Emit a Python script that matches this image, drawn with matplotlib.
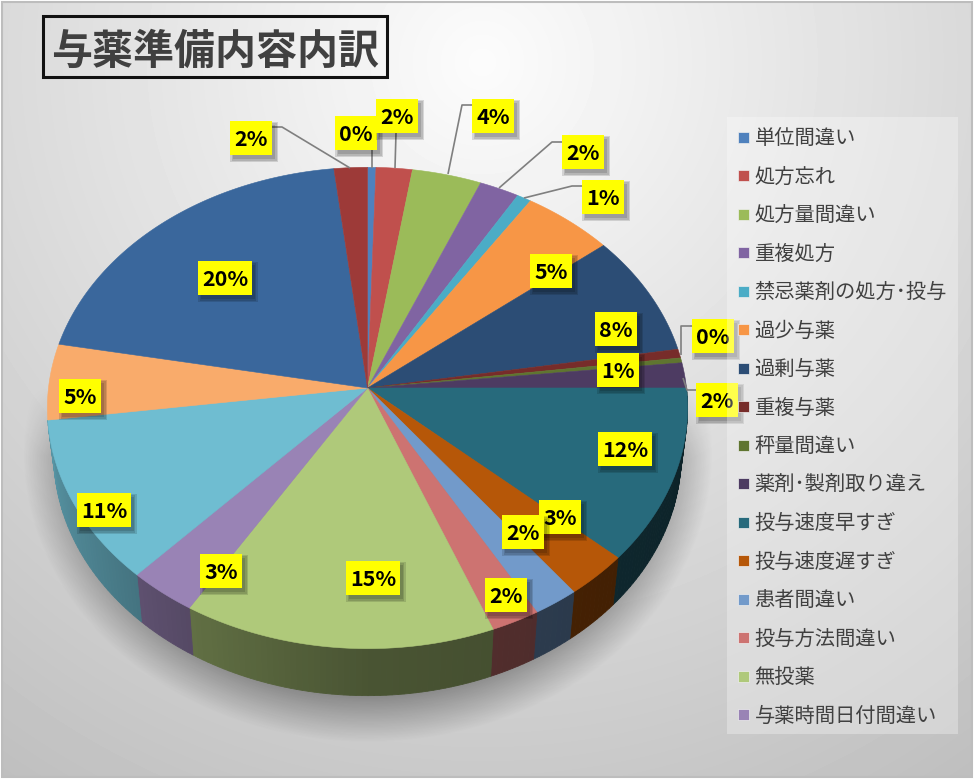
import numpy as np
import matplotlib
matplotlib.use("Agg")
import matplotlib.pyplot as plt
from matplotlib.patches import Polygon, Rectangle

plt.rcParams["font.family"] = ["Noto Sans CJK JP", "DejaVu Sans"]

title = "与薬準備内容内訳"

legend_names = ["単位間違い", "処方忘れ", "処方量間違い", "重複処方", "禁忌薬剤の処方･投与",
                "過少与薬", "過剰与薬", "重複与薬", "秤量間違い", "薬剤･製剤取り違え",
                "投与速度早すぎ", "投与速度遅すぎ", "患者間違い", "投与方法間違い", "無投薬",
                "与薬時間日付間違い"]

# percent per slice, clockwise from 12 o'clock (last 4 are not in the legend)
values = [0.46, 1.98, 3.8, 2.18, 0.78, 5.0, 8.17, 0.6, 0.33, 1.7,
          11.7, 2.97, 2.13, 2.28, 14.6, 3.2, 11.0, 5.1, 20.2, 1.82]

colors = ["#4F81BD", "#C0504D", "#9BBB59", "#8064A2", "#4BACC6", "#F79646", "#2C4D75",
          "#772C2A", "#5F7530", "#4D3B62", "#276A7C", "#B65708", "#729ACA", "#CD7371",
          "#AFC97A", "#9983B5", "#6FBDD1", "#F9AB6B", "#3A679C", "#9D3A38"]

# label box centres in pixels, same order as values
label_pos = [(356, 133), (397, 116), (493, 116), (583, 152), (603, 197), (551, 271),
             (616, 329), (618, 370), (713, 336), (717, 400), (625, 449), (560, 517),
             (523, 532), (506, 595), (373, 578), (221, 571), (104, 510), (80, 396),
             (225, 278), (251, 138)]

leaders = [[(272, 127), (282, 127), (350, 168)],
           [(372, 150), (372, 168)],
           [(396, 133), (395, 168)],
           [(472, 105), (462, 105), (448, 174)],
           [(562, 142), (552, 142), (499, 188)],
           [(582, 186), (572, 186), (524, 198)],
           [(692, 326), (681, 326), (681, 355)],
           [(697, 390), (687, 390), (683, 378)]]

# tilted pie geometry
CX, CY = 367.5, 388.0
R, RC = 319.0, 239.0
PERSP = 0.083
DEPTH = 47.0
BOTTOM_SCALE = 0.98


def rim(theta):
    # theta in degrees, clockwise from top
    t = np.radians(theta)
    s = 1 + PERSP * np.cos(t)
    return CX + R * np.sin(t) / s, CY - RC * np.cos(t) / s


def side_shade(theta):
    return np.interp(theta, [90, 120, 180, 210, 230, 265, 280],
                     [0.3, 0.35, 0.42, 0.55, 0.65, 0.8, 0.8])


fig = plt.figure(figsize=(9.76, 7.80), dpi=100)
ax = fig.add_axes([0, 0, 1, 1])
ax.axis("off")

# background gradient
yy, xx = np.mgrid[0:775, 0:970]
dist = np.hypot(xx - 480, yy - 60)
bg = np.clip(252 - 62 * dist / 870, 0, 255) / 255
ax.imshow(bg, cmap="gray", vmin=0, vmax=1, extent=(2, 972, 777, 2), aspect="auto", zorder=0)
ax.add_patch(Rectangle((2, 2), 970, 775, fill=False, ec="#BDBDBD", lw=1.5, zorder=1))

# soft shadow under the pie
yy, xx = np.mgrid[300:780, 0:800]
d = np.hypot((xx - CX) / 345, (yy - 452) / 290)
alpha = 0.42 * np.clip((1 - d) / 0.2, 0, 1) * np.clip((yy - 385) / 70, 0, 1)
shadow = np.zeros(alpha.shape + (4,))
shadow[..., 3] = alpha
ax.imshow(shadow, extent=(0, 800, 780, 300), aspect="auto", zorder=1)
ax.set_xlim(0, 976)
ax.set_ylim(780, 0)

edges = 3.6 * np.concatenate([[0], np.cumsum(values)]) * 100 / sum(values)

# side wall, strips so the shade can change along it
for i, col in enumerate(colors):
    a0, a1 = max(edges[i], 90), min(edges[i + 1], edges[17])
    if a1 <= a0:
        continue
    steps = np.linspace(a0, a1, max(int(a1 - a0), 1) + 1)
    base = np.array(matplotlib.colors.to_rgb(col))
    for s0, s1 in zip(steps[:-1], steps[1:]):
        x0, y0 = rim(s0)
        x1, y1 = rim(s1)
        bx0 = CX + (x0 - CX) * BOTTOM_SCALE
        bx1 = CX + (x1 - CX) * BOTTOM_SCALE
        c = base * side_shade((s0 + s1) / 2)
        ax.add_patch(Polygon([(x0, y0), (x1, y1), (bx1, y1 + DEPTH), (bx0, y0 + DEPTH)],
                             fc=c, ec=c, lw=0.6, zorder=2))

# top face
for i, col in enumerate(colors):
    th = np.linspace(edges[i], edges[i + 1], max(int(edges[i + 1] - edges[i]) * 2, 2) + 1)
    xs, ys = rim(th)
    pts = [(CX, CY)] + list(zip(xs, ys))
    ax.add_patch(Polygon(pts, fc=col, ec=col, lw=0.4, zorder=3))

# leader lines
for path in leaders:
    px, py = zip(*path)
    ax.plot(px, py, color="#7F7F7F", lw=1.2, zorder=4, solid_capstyle="butt")

# data labels
for i, (v, (lx, ly)) in enumerate(zip(values, label_pos)):
    txt = f"{v:.0f}%"
    w = 53.5 if len(txt) == 3 else 42
    h = 34.5
    z = 5 + i * 0.01
    for grow in (3, 1.5, 0):
        ax.add_patch(Rectangle((lx - w / 2 + 3 - grow, ly - h / 2 + 4 - grow), w + 2 * grow, h + 2 * grow,
                               fc="black", alpha=0.13, ec="none", zorder=z))
    ax.add_patch(Rectangle((lx - w / 2, ly - h / 2), w, h, fc="#FFFF00", ec="none", zorder=z))
    ax.text(lx, ly - 0.5, txt, ha="center", va="center_baseline", fontsize=15.5, fontweight="bold",
            color="black", zorder=z)

# legend
ax.add_patch(Rectangle((727, 117), 231, 617, fc="white", alpha=0.3, ec="none", zorder=6))
for i, name in enumerate(legend_names):
    y = 137 + i * 38.53
    ax.add_patch(Rectangle((738, y - 5.5), 11, 11, fc=colors[i], ec="#EEEEEE", lw=0.5, zorder=7))
    ax.text(754.5, y - 1, name, ha="left", va="center_baseline", fontsize=14.6, color="#404040", zorder=7)

# title
ax.add_patch(Rectangle((43, 16), 344, 61, fc="none", ec="#111111", lw=2.2, zorder=7))
ax.text(215.5, 47, title, ha="center", va="center_baseline", fontsize=29.5, fontweight="bold",
        color="#404040", zorder=7)

fig.savefig("out.png", dpi=100, facecolor="white")
